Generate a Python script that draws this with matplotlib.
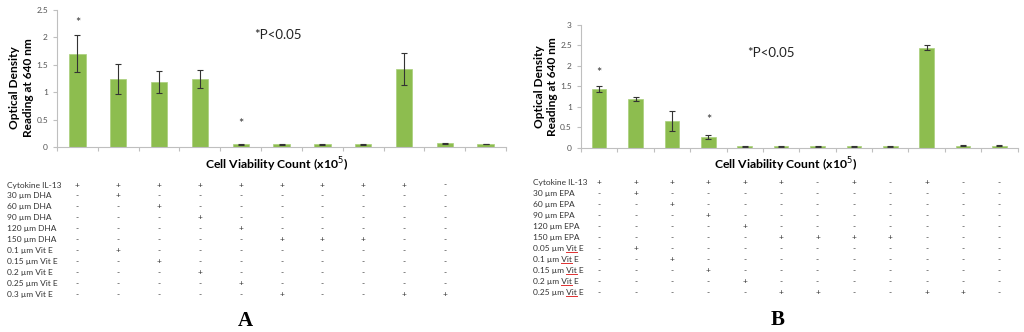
import numpy as np
import matplotlib
matplotlib.use('Agg')
from matplotlib import pyplot as plt
from matplotlib import transforms
from matplotlib.lines import Line2D

plt.rcParams['font.family'] = ['Lato', 'DejaVu Sans']

# Panel A data (DHA)
a_values = [1.70, 1.24, 1.18, 1.24, 0.055, 0.05, 0.055, 0.05, 1.42, 0.07, 0.05]
a_errors = [0.34, 0.27, 0.20, 0.16, 0.01, 0.005, 0.01, 0.01, 0.29, 0.01, 0.0]
a_stars = {0: 2.27, 4: 0.42}
a_rows = ['Cytokine IL-13', '30 µm DHA', '60 µm DHA', '90 µm DHA', '120 µm DHA',
          '150 µm DHA', '0.1 µm Vit E', '0.15 µm Vit E', '0.2 µm Vit E',
          '0.25 µm Vit E', '0.3 µm Vit E']
a_table = ['+++++++++-',
           '-+--------',
           '--+-------',
           '---+------',
           '----+-----',
           '-----+++--',
           '-+--------',
           '--+-------',
           '---+------',
           '----+-----',
           '-----+--++']

# Panel B data (EPA)
b_values = [1.43, 1.20, 0.66, 0.27, 0.04, 0.04, 0.04, 0.04, 0.04, 2.45, 0.05, 0.05]
b_errors = [0.07, 0.05, 0.24, 0.05, 0.01, 0.01, 0.01, 0.01, 0.01, 0.07, 0.01, 0.01]
b_stars = {0: 1.83, 3: 0.69}
b_rows = ['Cytokine IL-13', '30 µm EPA', '60 µm EPA', '90 µm EPA', '120 µm EPA',
          '150 µm EPA', '0.05 µm Vit E', '0.1 µm Vit E', '0.15 µm Vit E',
          '0.2 µm Vit E', '0.25 µm Vit E']
b_table = ['++++++-+-+--',
           '-+----------',
           '--+---------',
           '---+--------',
           '----+-------',
           '-----++++---',
           '-+----------',
           '--+---------',
           '---+--------',
           '----+-------',
           '-----++--++-']

bar_color = '#8DBD4F'
axis_color = '#BFBFBF'


def draw_panel(fig, rect, values, errors, stars, ymax, pval_pos, ylabel_pos):
    ax = fig.add_axes(rect)
    x = np.arange(len(values))
    ax.bar(x, values, width=0.4, color=bar_color, edgecolor='#A9CF7A', linewidth=0.5)
    ax.errorbar(x, values, yerr=errors, fmt='none', ecolor='#333333',
                elinewidth=0.8, capsize=2, capthick=0.8)
    for i, h in stars.items():
        ax.text(i, h, '*', ha='center', va='center', fontsize=9, color='#333333')
    ax.set_xlim(-0.5, len(values) - 0.5)
    ax.set_ylim(0, ymax)
    ax.set_yticks(np.arange(0, ymax + 0.01, 0.5))
    ax.set_yticklabels(['%g' % v for v in np.arange(0, ymax + 0.01, 0.5)])
    ax.set_xticks(np.arange(len(values) + 1) - 0.5)
    ax.set_xticklabels([])
    for s in ['top', 'right']:
        ax.spines[s].set_visible(False)
    for s in ['left', 'bottom']:
        ax.spines[s].set_color(axis_color)
        ax.spines[s].set_linewidth(0.8)
    ax.tick_params(axis='both', colors=axis_color, length=3, width=0.8,
                   labelsize=6, labelcolor='#555555')
    ax.text(pval_pos[0], pval_pos[1], '*P<0.05', transform=ax.transAxes,
            fontsize=9.5, color='#222222', ha='left', va='center')
    ax.set_ylabel('Optical Density\nReading at 640 nm', fontsize=8.6,
                  fontweight='bold', linespacing=1.3)
    ax.yaxis.set_label_coords(*ylabel_pos)
    return ax


def draw_table(fig, ax, rows, table, label_x, y0, dy, squiggle=False):
    tr = transforms.blended_transform_factory(ax.transData, fig.transFigure)
    renderer = fig.canvas.get_renderer()
    for r, (name, marks) in enumerate(zip(rows, table)):
        y = y0 - r * dy
        fig.text(label_x, y, name, fontsize=6, color='#333333', va='center')
        if squiggle and 'Vit' in name:
            pre = name[:name.index('Vit')]
            t1 = fig.text(label_x, y, pre, fontsize=6, va='center', alpha=0)
            t2 = fig.text(label_x, y, pre + 'Vit', fontsize=6, va='center', alpha=0)
            e1 = t1.get_window_extent(renderer)
            e2 = t2.get_window_extent(renderer)
            W, H = fig.bbox.width, fig.bbox.height
            yl = e2.y0 / H - 0.5 / H
            fig.add_artist(Line2D([e1.x1 / W, e2.x1 / W], [yl, yl],
                                  transform=fig.transFigure, color='#E03030',
                                  linewidth=0.7))
        for c, m in enumerate(marks):
            ax.text(c, y, m, transform=tr, fontsize=6, color='#333333',
                    ha='center', va='center', clip_on=False)


fig = plt.figure(figsize=(10.24, 3.32), dpi=100)

ax_a = draw_panel(fig, [0.0557, 0.557, 0.4385, 0.413], a_values, a_errors,
                  a_stars, 2.5, (0.44, 0.82), (-0.052, 0.434))
ax_b = draw_panel(fig, [0.5674, 0.555, 0.4264, 0.3696], b_values, b_errors,
                  b_stars, 3.0, (0.38, 0.77), (-0.052, 0.495))

fig.text(277 / 1024, 1 - 165 / 332, 'Cell Viability Count (x10$^5$)', fontsize=8.8,
         fontweight='bold', ha='center', va='center')
fig.text(786 / 1024, 1 - 165 / 332, 'Cell Viability Count (x10$^5$)', fontsize=8.8,
         fontweight='bold', ha='center', va='center')

draw_table(fig, ax_a, a_rows, a_table, 7 / 1024, 1 - 185 / 332, 10.93 / 332)
draw_table(fig, ax_b, b_rows, b_table, 533 / 1024, 1 - 182.7 / 332, 10.96 / 332,
           squiggle=True)

fig.text(245 / 1024, 1 - 321 / 332, 'A', fontsize=15, fontweight='bold',
         family='Liberation Serif', ha='center', va='center')
fig.text(778 / 1024, 1 - 320 / 332, 'B', fontsize=15, fontweight='bold',
         family='Liberation Serif', ha='center', va='center')

fig.savefig('out.png', dpi=100)
